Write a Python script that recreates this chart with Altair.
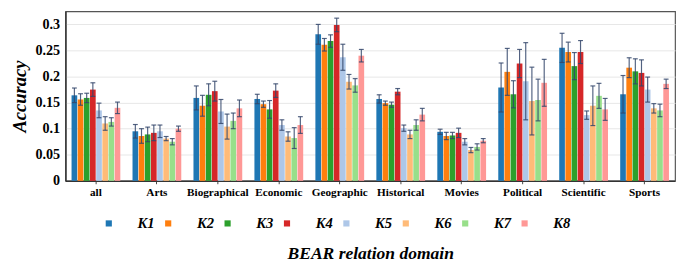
import altair as alt
import pandas as pd

categories = ["all", "Arts", "Biographical", "Economic", "Geographic",
              "Historical", "Movies", "Political", "Scientific", "Sports"]
series = ["K1", "K2", "K3", "K4", "K5", "K6", "K7", "K8"]
colors = ["#1f77b4", "#ff7f0e", "#2ca02c", "#d62728",
          "#aec7e8", "#ffbb78", "#98df8a", "#ff9896"]
y_ticks = [0, 0.05, 0.1, 0.15, 0.2, 0.25, 0.3]

# mean accuracy per category (rows) and series K1..K8 (columns)
values = [
    [0.164, 0.156, 0.159, 0.175, 0.135, 0.110, 0.113, 0.140],  # all
    [0.095, 0.086, 0.089, 0.092, 0.095, 0.081, 0.075, 0.100],  # Arts
    [0.159, 0.144, 0.165, 0.172, 0.133, 0.104, 0.115, 0.139],  # Biographical
    [0.157, 0.147, 0.137, 0.173, 0.107, 0.085, 0.082, 0.107],  # Economic
    [0.281, 0.261, 0.268, 0.299, 0.237, 0.190, 0.183, 0.240],  # Geographic
    [0.157, 0.149, 0.146, 0.171, 0.101, 0.089, 0.107, 0.127],  # Historical
    [0.094, 0.086, 0.087, 0.092, 0.075, 0.059, 0.065, 0.077],  # Movies
    [0.179, 0.209, 0.166, 0.225, 0.191, 0.153, 0.155, 0.188],  # Political
    [0.255, 0.247, 0.220, 0.247, 0.126, 0.144, 0.163, 0.137],  # Scientific
    [0.166, 0.217, 0.210, 0.207, 0.175, 0.139, 0.135, 0.186],  # Sports
]
# half-width of error bars
errors = [
    [0.014, 0.011, 0.009, 0.013, 0.014, 0.013, 0.008, 0.011],
    [0.013, 0.014, 0.014, 0.015, 0.012, 0.004, 0.006, 0.005],
    [0.023, 0.020, 0.021, 0.019, 0.023, 0.024, 0.015, 0.016],
    [0.009, 0.006, 0.017, 0.013, 0.010, 0.009, 0.020, 0.016],
    [0.019, 0.012, 0.012, 0.013, 0.025, 0.014, 0.013, 0.012],
    [0.008, 0.004, 0.005, 0.006, 0.006, 0.008, 0.010, 0.012],
    [0.005, 0.007, 0.006, 0.009, 0.006, 0.005, 0.006, 0.004],
    [0.047, 0.045, 0.026, 0.027, 0.074, 0.065, 0.040, 0.045],
    [0.028, 0.019, 0.026, 0.022, 0.008, 0.038, 0.024, 0.021],
    [0.036, 0.019, 0.024, 0.025, 0.024, 0.009, 0.012, 0.009],
]

rows = []
for i, c in enumerate(categories):
    for j, s in enumerate(series):
        v = values[i][j]
        e = errors[i][j]
        rows.append({"domain": c, "model": s, "acc": v, "lo": v - e, "hi": v + e})
df = pd.DataFrame(rows)

FONT = "Liberation Serif"
xaxis = alt.Axis(title="BEAR relation domain", labelAngle=0,
                 labelFont=FONT, labelFontWeight="bold", labelFontSize=11.5,
                 labelColor="black", tickSize=3, tickColor="#444",
                 domainColor="#333", domainWidth=1.5,
                 titleFont=FONT, titleFontSize=18, titleFontWeight="bold",
                 titleFontStyle="italic", titleColor="black",
                 titlePadding=48, labelPadding=3)
yaxis = alt.Axis(title="Accuracy", values=y_ticks, format="~g",
                 labelOverlap=False,
                 labelFont=FONT, labelFontWeight="bold", labelFontSize=14.5,
                 labelColor="black", tickSize=0, labelPadding=6,
                 domainColor="#333", domainWidth=1.5,
                 gridColor="#e6e6e6", gridWidth=1,
                 titleFont=FONT, titleFontSize=19, titleFontWeight="bold",
                 titleFontStyle="italic", titleColor="black", titlePadding=6)
xscale = alt.Scale(paddingInner=0.2, paddingOuter=0.1)
oscale = alt.Scale(paddingInner=0.08)
yscale = alt.Scale(domain=[0, 0.325], nice=False)


def xe():
    return alt.X("domain:N", sort=categories, scale=xscale, axis=xaxis)


def oe():
    return alt.XOffset("model:N", sort=series, scale=oscale)


bars = alt.Chart(df).mark_bar().encode(
    x=xe(),
    xOffset=oe(),
    y=alt.Y("acc:Q", scale=yscale, axis=yaxis),
    color=alt.Color("model:N", sort=series,
                    scale=alt.Scale(domain=series, range=colors),
                    legend=alt.Legend(title=None, orient="none", direction="horizontal",
                                      columns=8, legendX=37, legendY=210,
                                      symbolType="square", symbolSize=40,
                                      symbolStrokeWidth=0, labelFont=FONT,
                                      labelFontSize=15, labelFontWeight="bold",
                                      labelFontStyle="italic", labelColor="black",
                                      labelOffset=22, columnPadding=6)),
)

ecolor = "#34466b"
rules = alt.Chart(df).mark_rule(color=ecolor, strokeWidth=1.2, opacity=0.85).encode(
    x=xe(),
    xOffset=oe(),
    y=alt.Y("lo:Q", scale=yscale, axis=yaxis),
    y2="hi:Q",
)
cap_hi = alt.Chart(df).mark_tick(color=ecolor, thickness=1.2, size=5, opacity=0.85).encode(
    x=xe(),
    xOffset=oe(),
    y=alt.Y("hi:Q", scale=yscale, axis=yaxis),
)
cap_lo = alt.Chart(df).mark_tick(color=ecolor, thickness=1.2, size=5, opacity=0.85).encode(
    x=xe(),
    xOffset=oe(),
    y=alt.Y("lo:Q", scale=yscale, axis=yaxis),
)

chart = alt.layer(bars, rules, cap_hi, cap_lo).properties(
    width=626, height=174,
    padding={"left": 2, "top": 0, "right": 2, "bottom": 0},
).configure(font=FONT).configure_axis(
    labelFont=FONT, titleFont=FONT
).configure_legend(
    labelFont=FONT
).configure_view(stroke="#555", strokeWidth=1.2)

chart.save("out.html", embed_options={"renderer": "svg", "actions": False})
